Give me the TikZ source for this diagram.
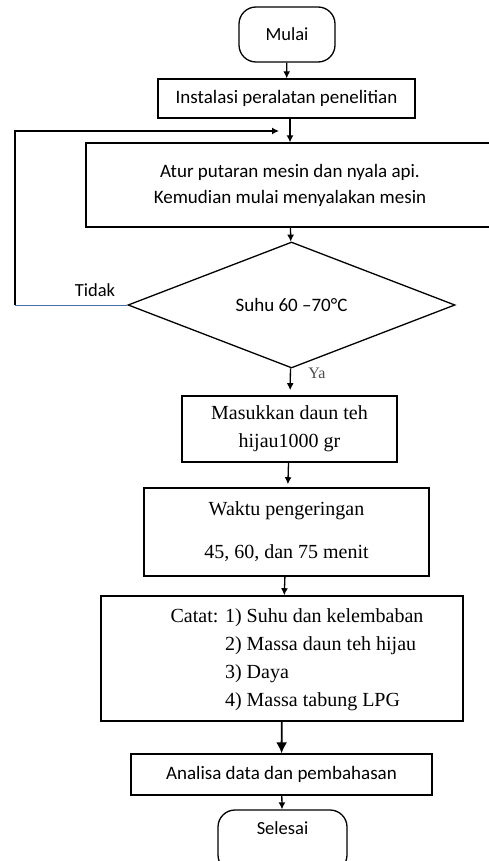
\documentclass[tikz,border=0pt]{standalone}
\usepackage{fontspec}
\setmainfont{Liberation Serif}
\newfontfamily\calibrifont{Carlito}
\usetikzlibrary{positioning,shapes.geometric,arrows.meta}
\definecolor{loopblue}{RGB}{70,110,170}

\begin{document}
\begin{tikzpicture}[x=1pt, y=-1pt,
    block/.style={rectangle, draw, line width=1.3pt, align=center, font=\calibrifont\fontsize{19}{26}\selectfont},
    sblock/.style={rectangle, draw, line width=1.6pt, align=center, font=\fontsize{20}{28}\selectfont},
    term/.style={rectangle, draw, line width=1.3pt, rounded corners=17pt, font=\calibrifont\fontsize{18.5}{22}\selectfont},
    decision/.style={diamond, draw, line width=1.3pt, inner sep=0pt, font=\calibrifont\fontsize{19}{22}\selectfont},
    arrow/.style={-{Latex[length=7pt,width=7pt]}, line width=1.3pt},
    bigarrow/.style={-{Latex[length=11pt,width=11pt]}, line width=1.8pt}]

    % Page frame
    \path[use as bounding box] (0,0) rectangle (489,861);
    \clip (0,0) rectangle (489,861);

    % Start and setup
    \node[term, minimum width=96pt, minimum height=55pt] (mulai) at (287,34.5) {Mulai};
    \node[block, minimum width=257pt, minimum height=39pt] (instalasi) at (286.5,98.5) {Instalasi peralatan penelitian};
    \node[block, minimum width=408pt, minimum height=84pt] (atur) at (290,185) {Atur putaran mesin dan nyala api.\\Kemudian mulai menyalakan mesin};

    % Temperature check
    \node[decision, minimum width=327pt, minimum height=126pt] (suhu) at (291.5,305) {Suhu 60 –70°C};
    \node[font=\calibrifont\fontsize{18.5}{22}\selectfont] (tidak) at (95,290) {Tidak};
    \node[font=\fontsize{16}{18}\selectfont, text=black!70] (ya) at (317,373) {Ya};

    % Drying process
    \node[sblock, minimum width=215pt, minimum height=66pt] (masukkan) at (289.5,429) {Masukkan daun teh\\hijau1000 gr};
    \node[sblock, minimum width=285pt, minimum height=88pt] (waktu) at (286.5,532) {Waktu pengeringan\\[15pt]45, 60, dan 75 menit};
    \node[sblock, minimum width=362pt, minimum height=125pt] (catat) at (282,658.5) {%
        \begin{tabular}{@{\hspace{30pt}}l@{ }l@{}}
        Catat: & 1) Suhu dan kelembaban\\
               & 2) Massa daun teh hijau\\
               & 3) Daya\\
               & 4) Massa tabung LPG
        \end{tabular}};

    % Analysis and end
    \node[block, minimum width=301pt, minimum height=41pt] (analisa) at (281.5,774.5) {Analisa data dan pembahasan};
    \node[term, minimum width=129pt, minimum height=62pt, text height=12pt, text depth=26pt] (selesai) at (282.5,841) {Selesai};

    % Connect steps
    \draw[arrow] (mulai) -- (instalasi);
    \draw[arrow] (atur.north |- instalasi.south) -- (atur.north);
    \draw[arrow] (atur) -- (suhu);
    \draw[arrow, shorten >=5pt] (suhu) -- (masukkan);
    \draw[arrow, shorten >=3pt] (masukkan) -- (waktu);
    \draw[arrow] (waktu) -- (catat);
    \draw[bigarrow] (catat) -- (analisa);
    \draw[arrow] (analisa) -- (selesai);

    % Loop back when temperature not reached
    \coordinate (back) at (15,305);
    \coordinate (backend) at (279,131);
    \draw[line width=1pt, loopblue] (suhu.west) -- (back);
    \draw[arrow] (back) |- (backend);
\end{tikzpicture}
\end{document}
